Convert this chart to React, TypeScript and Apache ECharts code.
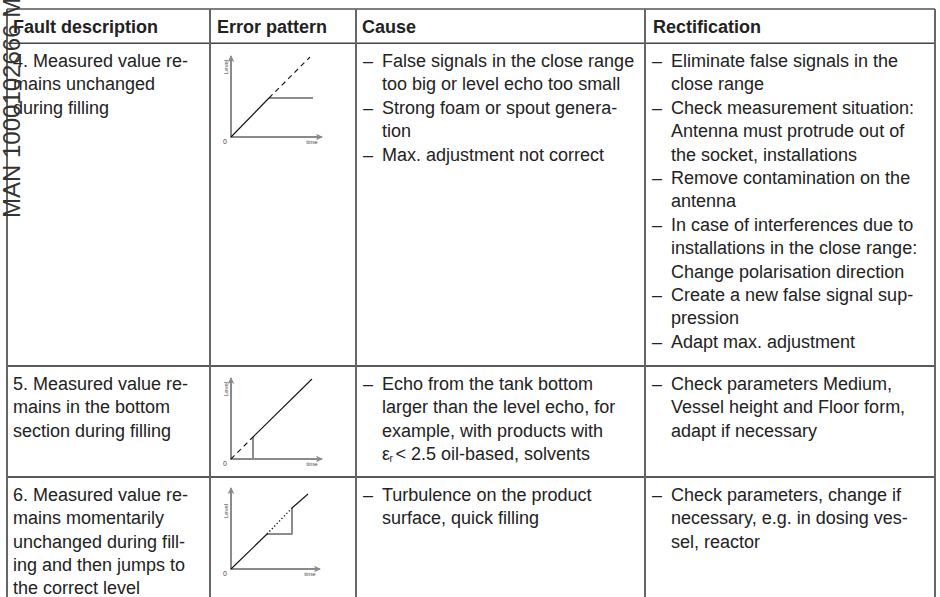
import React, { useEffect, useRef } from "react";
import * as echarts from "echarts";

// ---------- table content ----------
const headers = ["Fault description", "Error pattern", "Cause", "Rectification"];

const faultText = [
  ["4. Measured value re-", "mains unchanged", "during filling"],
  ["5. Measured value re-", "mains in the bottom", "section during filling"],
  ["6. Measured value re-", "mains momentarily", "unchanged during fill-", "ing and then jumps to", "the correct level"],
];

const causeText = [
  [
    ["False signals in the close range", "too big or level echo too small"],
    ["Strong foam or spout genera-", "tion"],
    ["Max. adjustment not correct"],
  ],
  [["Echo from the tank bottom", "larger than the level echo, for", "example, with products with", "ε_r< 2.5 oil-based, solvents"]],
  [["Turbulence on the product", "surface, quick filling"]],
];

const rectText = [
  [
    ["Eliminate false signals in the", "close range"],
    ["Check measurement situation:", "Antenna must protrude out of", "the socket, installations"],
    ["Remove contamination on the", "antenna"],
    ["In case of interferences due to", "installations in the close range:", "Change polarisation direction"],
    ["Create a new false signal sup-", "pression"],
    ["Adapt max. adjustment"],
  ],
  [["Check parameters Medium,", "Vessel height and Floor form,", "adapt if necessary"]],
  [["Check parameters, change if", "necessary, e.g. in dosing ves-", "sel, reactor"]],
];

const sideNote = "MAN 1000102666 MI";

// ---------- mini "error pattern" charts (axis units) ----------
const axisLabels = { y: "Level", x: "time", origin: "0" };

// chart 1: value remains unchanged during filling
const p1Real = [[0, 0], [38, 39]];
const p1Expected = [[38, 39], [79, 80]];
const p1Measured = [[38, 39], [82, 39]];
// chart 2: value remains in bottom section
const p2Expected = [[0, 0], [22, 22]];
const p2Real = [[22, 22], [81, 80]];
const p2Measured = [[22, 0], [22, 22]];
// chart 3: momentarily unchanged then jumps
const p3RealA = [[0, 0], [36, 35]];
const p3Expected = [[36, 35], [61, 61]];
const p3RealB = [[61, 61], [77, 75]];
const p3Measured = [[36, 35], [61, 35], [61, 61]];

export default function App() {
  const ref = useRef<HTMLDivElement>(null);

  useEffect(() => {
    if (!ref.current) return;
    const chart = echarts.init(ref.current, undefined, { renderer: "svg" });

    const FONT = "'Liberation Sans', Arial, Helvetica, sans-serif";
    const TXT = "#222";
    const FS = 18;
    const LH = 23.4;

    const tableLeft = 7;
    const tableRight = 935;
    const tableTop = 9;
    const headerBottom = 43.3;
    const rowTops = [headerBottom, 366, 477];
    const tableBottom = 600;
    const colX = [tableLeft, 210, 356, 645, tableRight];

    const g: any[] = [];

    const text = (x: number, y: number, s: string, extra: any = {}) => ({
      type: "text",
      x,
      y,
      silent: true,
      style: {
        text: s,
        fill: TXT,
        fontFamily: FONT,
        fontSize: FS,
        align: "left",
        textAlign: "left",
        verticalAlign: "middle",
        textVerticalAlign: "middle",
        ...extra,
      },
    });

    // table lines
    const hLine = (y: number, color: string, w: number) => ({
      type: "line",
      silent: true,
      shape: { x1: tableLeft, y1: y, x2: tableRight, y2: y },
      style: { stroke: color, lineWidth: w },
    });
    const vLine = (x: number) => ({
      type: "line",
      silent: true,
      shape: { x1: x, y1: tableTop, x2: x, y2: tableBottom },
      style: { stroke: "#666", lineWidth: 2 },
    });
    g.push(hLine(tableTop, "#555", 1.5));
    g.push(hLine(headerBottom, "#444", 1.5));
    g.push(hLine(rowTops[1], "#222", 1.5));
    g.push(hLine(rowTops[2], "#222", 1.5));
    colX.forEach((x) => g.push(vLine(x)));

    // header
    const headX = [13, 217, 362, 653];
    headers.forEach((h, i) => g.push(text(headX[i], 26.5, h, { fontWeight: "bold" })));

    const dashOff = 7;
    const indent = 26;

    const pushItems = (items: string[][], colLeft: number, top: number) => {
      let line = 0;
      items.forEach((item) => {
        item.forEach((s, j) => {
          const y = top + 17.7 + line * LH;
          if (j === 0) g.push(text(colLeft + dashOff, y, "–"));
          if (s.startsWith("ε_r")) {
            const x0 = colLeft + indent;
            g.push(text(x0, y, "ε"));
            g.push(text(x0 + 7.5, y + 5, "r", { fontSize: 10 }));
            g.push(text(x0 + 13.5, y, s.slice(3)));
          } else {
            g.push(text(colLeft + indent, y, s));
          }
          line++;
        });
      });
    };

    rowTops.forEach((top, r) => {
      faultText[r].forEach((s, j) => g.push(text(13, top + 17.7 + j * LH, s)));
      pushItems(causeText[r], colX[2], top);
      pushItems(rectText[r], colX[3], top);
    });

    // mini charts geometry
    const grids = [
      { left: 231, top: 57, width: 90, height: 80, levelDy: 70 },
      { left: 231, top: 379, width: 90, height: 80, levelDy: 70 },
      { left: 231, top: 489, width: 88, height: 80, levelDy: 58 },
    ];

    grids.forEach((gr) => {
      const oy = gr.top + gr.height;
      g.push(
        text(gr.left - 5, oy - gr.levelDy, axisLabels.y, {
          fontSize: 6,
          fill: "#444",
          align: "center",
          textAlign: "center",
        })
      );
      g[g.length - 1].rotation = Math.PI / 2;
      g.push(text(gr.left - 6, oy + 4, axisLabels.origin, { fontSize: 7, fill: "#444", align: "center", textAlign: "center" }));
      g.push(text(gr.left + gr.width - 9, oy + 5, axisLabels.x, { fontSize: 6, fill: "#444", align: "center", textAlign: "center" }));
    });

    // side note (rotated)
    g.push({
      type: "text",
      x: 11,
      y: 218,
      rotation: Math.PI / 2,
      silent: true,
      z: 100,
      style: {
        text: sideNote,
        fill: "#333",
        fontFamily: FONT,
        fontSize: 24,
        align: "left",
        textAlign: "left",
        verticalAlign: "middle",
        textVerticalAlign: "middle",
      },
    });

    const axisBase = (max: number, gi: number) => ({
      type: "value",
      gridIndex: gi,
      min: 0,
      max,
      axisLine: {
        show: true,
        onZero: false,
        lineStyle: { color: "#8a8a8a", width: 2 },
        symbol: ["none", "arrow"],
        symbolSize: [5, 7],
        symbolOffset: [0, 2],
      },
      axisTick: { show: false },
      axisLabel: { show: false },
      splitLine: { show: false },
    });

    const seg = (data: number[][], gi: number, kind: string) => {
      const style: any =
        kind === "measured"
          ? { color: "#8c8c8c", width: 2, type: "solid" }
          : kind === "dashed"
          ? { color: "#111", width: 1.1, type: [5, 4] }
          : kind === "dotted"
          ? { color: "#111", width: 1.3, type: [1.3, 2.2] }
          : { color: "#111", width: 1.1, type: "solid" };
      return {
        type: "line",
        xAxisIndex: gi,
        yAxisIndex: gi,
        data,
        symbol: "none",
        silent: true,
        lineStyle: style,
        z: kind === "measured" ? 1 : 2,
      };
    };

    chart.setOption({
      animation: false,
      backgroundColor: "#fff",
      grid: grids.map((gr) => ({ left: gr.left, top: gr.top, width: gr.width, height: gr.height })),
      xAxis: grids.map((gr, i) => axisBase(gr.width, i)),
      yAxis: grids.map((gr, i) => axisBase(gr.height, i)),
      series: [
        seg(p1Real, 0, "solid"),
        seg(p1Expected, 0, "dashed"),
        seg(p1Measured, 0, "measured"),
        seg(p2Expected, 1, "dashed"),
        seg(p2Real, 1, "solid"),
        seg(p2Measured, 1, "measured"),
        seg(p3RealA, 2, "solid"),
        seg(p3Expected, 2, "dotted"),
        seg(p3RealB, 2, "solid"),
        seg(p3Measured, 2, "measured"),
      ],
      graphic: g,
    });

    return () => chart.dispose();
  }, []);

  return (
    <div
      ref={ref}
      style={{ position: "fixed", left: 0, top: 0, width: 940, height: 597, background: "#fff" }}
    />
  );
}
